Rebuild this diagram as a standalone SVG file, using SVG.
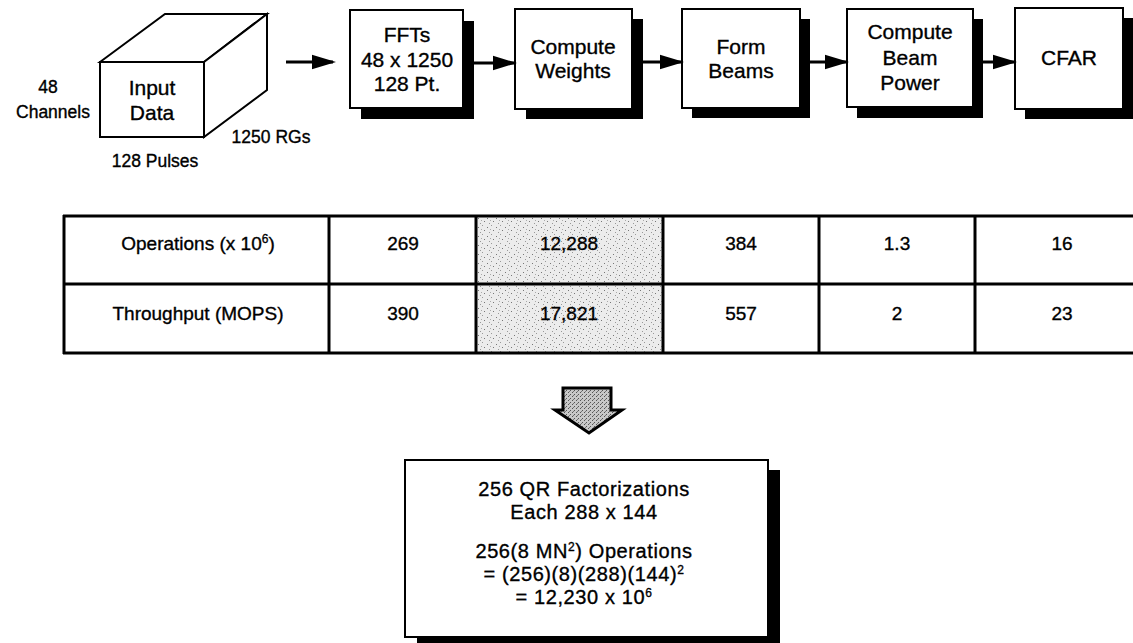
<svg xmlns="http://www.w3.org/2000/svg" width="1133" height="643" viewBox="0 0 1133 643">
<style>
text{font-family:"Liberation Sans",Arial,sans-serif;fill:#000;stroke:#000;stroke-width:0.35}
.bt{font-size:21px;text-anchor:middle}
.qt{font-size:20px;text-anchor:middle;letter-spacing:0.6px}
.tt{font-size:19px;text-anchor:middle}
.lb{font-size:17.5px;text-anchor:middle}
.box{fill:#fff;stroke:#000;stroke-width:2}
.sh{fill:#000}
.ln{stroke:#000;stroke-width:3;fill:none}
.cn{stroke:#000;stroke-width:3;fill:none;marker-end:url(#ah)}
.cube{fill:#fff;stroke:#000;stroke-width:2;stroke-linejoin:miter}
</style>
<defs>
<marker id="ah" markerWidth="8" markerHeight="6" refX="7" refY="3" orient="auto" markerUnits="strokeWidth">
<path d="M0,0.6 L8,3 L0,5.4 Z" fill="#000"/>
</marker>
<pattern id="stip" width="9" height="9" patternUnits="userSpaceOnUse">
<rect width="9" height="9" fill="#ececec"/>
<rect x="1" y="2" width="1" height="1" fill="#777"/>
<rect x="5" y="0" width="1" height="1" fill="#999"/>
<rect x="7" y="5" width="1" height="1" fill="#777"/>
<rect x="3" y="7" width="1" height="1" fill="#999"/>
<rect x="4" y="4" width="1" height="1" fill="#aaa"/>
</pattern>
<pattern id="dark" width="4" height="4" patternUnits="userSpaceOnUse">
<rect width="4" height="4" fill="#c8c8c8"/>
<rect x="0" y="0" width="1" height="1" fill="#555"/>
<rect x="2" y="2" width="1" height="1" fill="#555"/>
<rect x="1" y="3" width="1" height="1" fill="#777"/>
</pattern>
</defs>
<rect width="1133" height="643" fill="#fff"/>

<g id="input-data">
<polygon class="cube" points="100,62 165,14 267,14 204,62"/>
<polygon class="cube" points="204,62 267,14 267,90 204,137"/>
<rect class="cube" x="100" y="62" width="104" height="75"/>
<text class="bt" x="152" y="95">Input</text>
<text class="bt" x="152" y="120">Data</text>
<text class="lb" x="48" y="93" font-size="15">48</text>
<text class="lb" x="53" y="118" font-size="15">Channels</text>
<text class="lb" x="271" y="143">1250 RGs</text>
<text class="lb" x="155" y="167">128 Pulses</text>
</g>

<g id="ffts">
<rect class="sh" x="361" y="21" width="113" height="98"/>
<rect class="box" x="350" y="10" width="113" height="98"/>
<text class="bt" x="407" y="42">FFTs</text>
<text class="bt" x="407" y="67">48 x 1250</text>
<text class="bt" x="407" y="91">128 Pt.</text>
</g>

<g id="compute-weights">
<rect class="sh" x="526" y="19" width="117" height="100"/>
<rect class="box" x="515" y="9" width="117" height="100"/>
<text class="bt" x="573" y="54">Compute</text>
<text class="bt" x="573" y="78">Weights</text>
</g>

<g id="form-beams">
<rect class="sh" x="692" y="19" width="118" height="99"/>
<rect class="box" x="682" y="9" width="118" height="99"/>
<text class="bt" x="741" y="54">Form</text>
<text class="bt" x="741" y="78">Beams</text>
</g>

<g id="compute-beam-power">
<rect class="sh" x="857" y="19" width="126" height="99"/>
<rect class="box" x="847" y="9" width="126" height="98"/>
<text class="bt" x="910" y="39">Compute</text>
<text class="bt" x="910" y="65">Beam</text>
<text class="bt" x="910" y="90">Power</text>
</g>

<g id="cfar">
<rect class="sh" x="1025" y="18" width="108" height="101"/>
<rect class="box" x="1015" y="8" width="108" height="101"/>
<text class="bt" x="1069" y="65">CFAR</text>
</g>

<g id="connectors">
<line class="cn" x1="286" y1="62" x2="333" y2="62"/>
<line class="cn" x1="474" y1="63" x2="514" y2="63"/>
<line class="cn" x1="643" y1="62" x2="681" y2="62"/>
<line class="cn" x1="810" y1="62" x2="846" y2="62"/>
<line class="cn" x1="983" y1="62" x2="1014" y2="62"/>
<polygon id="down-arrow" points="563,388 611,388 611,410 622,410 589,433 555,410 563,410" fill="url(#dark)" stroke="#000" stroke-width="3" stroke-linejoin="miter"/>
</g>

<g id="table">
<rect x="476" y="216" width="187" height="137" fill="url(#stip)"/>
<line class="ln" x1="63" y1="216" x2="1133" y2="216"/>
<line class="ln" x1="63" y1="284" x2="1133" y2="284"/>
<line class="ln" x1="63" y1="353" x2="1133" y2="353"/>
<line class="ln" x1="64" y1="215" x2="64" y2="354"/>
<line class="ln" x1="329" y1="215" x2="329" y2="354"/>
<line class="ln" x1="476" y1="215" x2="476" y2="354"/>
<line class="ln" x1="663" y1="215" x2="663" y2="354"/>
<line class="ln" x1="819" y1="215" x2="819" y2="354"/>
<line class="ln" x1="975" y1="215" x2="975" y2="354"/>
<text class="tt" x="198" y="250">Operations (x 10<tspan font-size="12" dy="-7">6</tspan><tspan dy="7">)</tspan></text>
<text class="tt" x="403" y="250">269</text>
<text class="tt" x="569" y="250">12,288</text>
<text class="tt" x="741" y="250">384</text>
<text class="tt" x="897" y="250">1.3</text>
<text class="tt" x="1062" y="250">16</text>
<text class="tt" x="198" y="320">Throughput (MOPS)</text>
<text class="tt" x="403" y="320">390</text>
<text class="tt" x="569" y="320">17,821</text>
<text class="tt" x="741" y="320">557</text>
<text class="tt" x="897" y="320">2</text>
<text class="tt" x="1062" y="320">23</text>
</g>

<g id="qr-box">
<rect class="sh" x="417" y="470" width="363" height="177"/>
<rect class="box" x="405" y="460" width="363" height="177"/>
<text class="qt" x="584" y="496">256 QR Factorizations</text>
<text class="qt" x="584" y="519">Each 288 x 144</text>
<text class="qt" x="584" y="558">256(8 MN<tspan font-size="12" dy="-7">2</tspan><tspan dy="7">) Operations</tspan></text>
<text class="qt" x="584" y="581">= (256)(8)(288)(144)<tspan font-size="12" dy="-7">2</tspan></text>
<text class="qt" x="584" y="604">= 12,230 x 10<tspan font-size="12" dy="-7">6</tspan></text>
</g>
</svg>
